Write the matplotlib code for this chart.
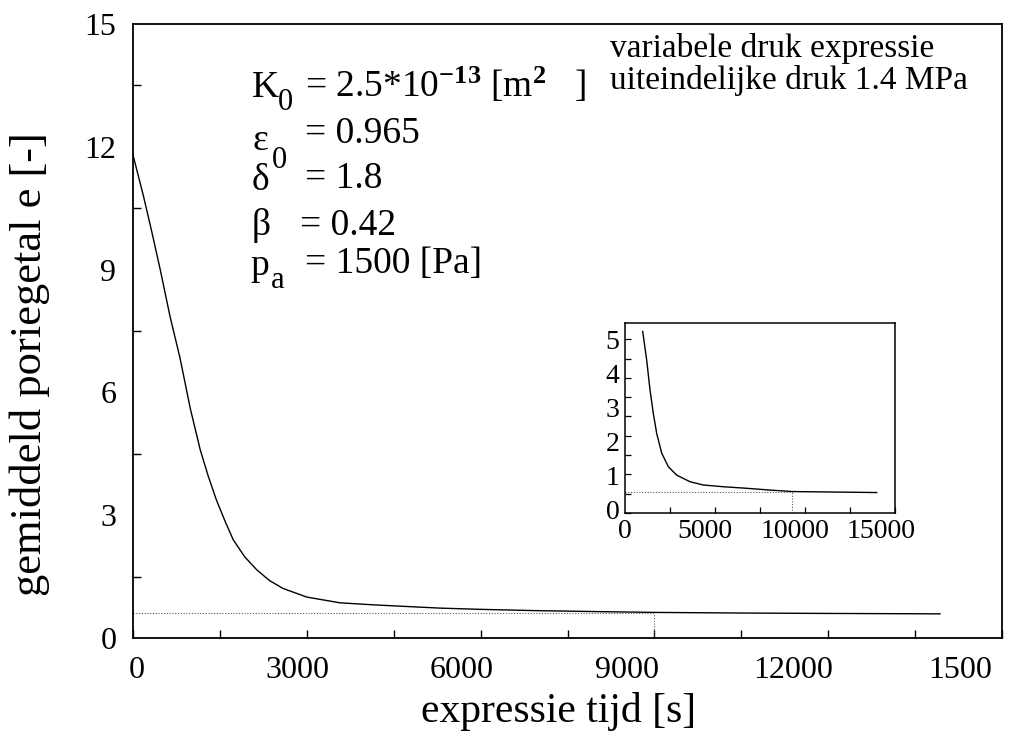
import matplotlib
matplotlib.use("Agg")
import matplotlib.pyplot as plt
import numpy as np

# main curve: mean void ratio vs expression time
t_main = [0, 180, 320, 470, 640, 810, 990, 1160, 1300, 1440, 1590, 1730, 1930,
          2140, 2360, 2590, 3000, 3570, 4150, 4720, 5300, 6000, 6900, 8000,
          9000, 10500, 12000, 13930]
e_main = [11.8, 10.8, 9.95, 9.0, 7.85, 6.85, 5.6, 4.6, 3.95, 3.37, 2.85, 2.4,
          1.98, 1.66, 1.40, 1.21, 1.0, 0.86, 0.81, 0.77, 0.73, 0.70, 0.67,
          0.645, 0.625, 0.61, 0.60, 0.59]
ref_t_main, ref_e_main = 9000, 0.61

# inset curve
t_inset = [983, 1205, 1389, 1572, 1761, 2039, 2406, 2872, 3611, 4350, 5461,
           6761, 7872, 9294, 13983]
e_inset = [4.70, 3.96, 3.19, 2.58, 2.06, 1.55, 1.20, 0.98, 0.81, 0.725, 0.68,
           0.64, 0.60, 0.555, 0.53]
ref_t_inset, ref_e_inset = 9300, 0.55

main_xlabels = ["0", "3000", "6000", "9000", "12000", "1500"]
main_xlabel_pos = [69, 2831, 5679, 8527, 11392, 14274]
main_yticks = [0, 3, 6, 9, 12, 15]
inset_xlabels = ["0", "5000", "10000", "15000"]
inset_xlabel_pos = [0, 4444, 9444, 14222]
inset_ylabels = ["0", "1", "2", "3", "4", "5"]
inset_ylabel_pos = [0.10, 0.98, 1.85, 2.73, 3.60, 4.48]

plt.rcParams['font.family'] = ['Liberation Serif', 'DejaVu Serif']
plt.rcParams['mathtext.fontset'] = 'custom'
plt.rcParams['mathtext.rm'] = 'Liberation Serif'
plt.rcParams['mathtext.it'] = 'Liberation Serif:italic'
plt.rcParams['mathtext.bf'] = 'Liberation Serif:bold'

W, H = 1021, 744
fig = plt.figure(figsize=(W / 100, H / 100), dpi=100)

def px(x, y):
    return x / W, 1 - y / H

ax = fig.add_axes([133 / W, 1 - 638 / H, (1002 - 133) / W, (638 - 24) / H])
ax.plot(t_main, e_main, color='black', lw=1.0)
ax.plot([0, ref_t_main], [ref_e_main, ref_e_main], color='0.35', lw=0.8, ls=(0, (1, 1.5)))
ax.plot([ref_t_main, ref_t_main], [0, ref_e_main], color='0.35', lw=0.8, ls=(0, (1, 1.5)))
ax.set_xlim(0, 15000)
ax.set_ylim(0, 15)

# tick marks every 1500 / 1.5, labels placed separately
ax.set_xticks(np.arange(0, 15001, 1500), minor=True)
ax.set_yticks(np.arange(0, 15.01, 1.5), minor=True)
ax.set_xticks(main_xlabel_pos)
ax.set_xticklabels(main_xlabels)
ax.set_yticks(main_yticks)
ax.tick_params(which='major', length=0, labelsize=23)
ax.tick_params(axis='x', which='major', pad=13)
ax.tick_params(axis='y', which='major', pad=12)
ax.tick_params(which='minor', direction='in', length=6, width=1.0)
for s in ax.spines.values():
    s.set_linewidth(1.3)

ax.set_xlabel("expressie tijd [s]", fontsize=30)
ax.xaxis.set_label_coords(0.49, -0.12)
ax.set_ylabel("gemiddeld poriegetal e [-]", fontsize=32)
ax.yaxis.set_label_coords(-0.1185, 0.446)
ax.xaxis.label.set_va('center')
ax.yaxis.label.set_va('center')

# parameter block
fs = 27
fs_sub = 22
fig.text(*px(252, 97), "K", fontsize=fs)
fig.text(*px(278, 110), "0", fontsize=fs_sub)
fig.text(*px(305, 97), r"= 2.5*10$^{\mathbf{-13}}$ [m$^{\mathbf{2}}$   ]", fontsize=fs)
fig.text(*px(252, 150), "ε", fontsize=fs)
fig.text(*px(272, 168), "0", fontsize=fs_sub)
fig.text(*px(305, 143), "= 0.965", fontsize=fs)
fig.text(*px(252, 190), "δ", fontsize=fs)
fig.text(*px(305, 188), "= 1.8", fontsize=fs)
fig.text(*px(252, 235), "β", fontsize=fs)
fig.text(*px(300, 235), "= 0.42", fontsize=fs)
fig.text(*px(250, 275), "p", fontsize=fs)
fig.text(*px(271, 288), "a", fontsize=fs_sub)
fig.text(*px(305, 273), "= 1500 [Pa]", fontsize=fs)

fig.text(*px(610, 57), "variabele druk expressie", fontsize=24)
fig.text(*px(610, 89), "uiteindelijke druk 1.4 MPa", fontsize=24)

# inset
axi = fig.add_axes([625 / W, 1 - 513 / H, (895 - 625) / W, (513 - 323) / H])
axi.plot(t_inset, e_inset, color='black', lw=1.0)
axi.plot([0, ref_t_inset], [ref_e_inset, ref_e_inset], color='0.35', lw=0.8, ls=(0, (1, 1.5)))
axi.plot([ref_t_inset, ref_t_inset], [0, ref_e_inset], color='0.35', lw=0.8, ls=(0, (1, 1.5)))
axi.set_xlim(0, 15000)
axi.set_ylim(0, 4.92)
axi.set_xticks(np.arange(0, 15001, 2500), minor=True)
axi.set_yticks(np.arange(0, 4.92, 0.5), minor=True)
axi.set_xticks(inset_xlabel_pos)
axi.set_xticklabels(inset_xlabels)
axi.set_yticks(inset_ylabel_pos)
axi.set_yticklabels(inset_ylabels)
axi.tick_params(which='major', length=0, labelsize=20, pad=4)
axi.tick_params(which='minor', direction='in', length=4, width=0.9)
for s in axi.spines.values():
    s.set_linewidth(1.1)

fig.savefig("out.png", dpi=100)
